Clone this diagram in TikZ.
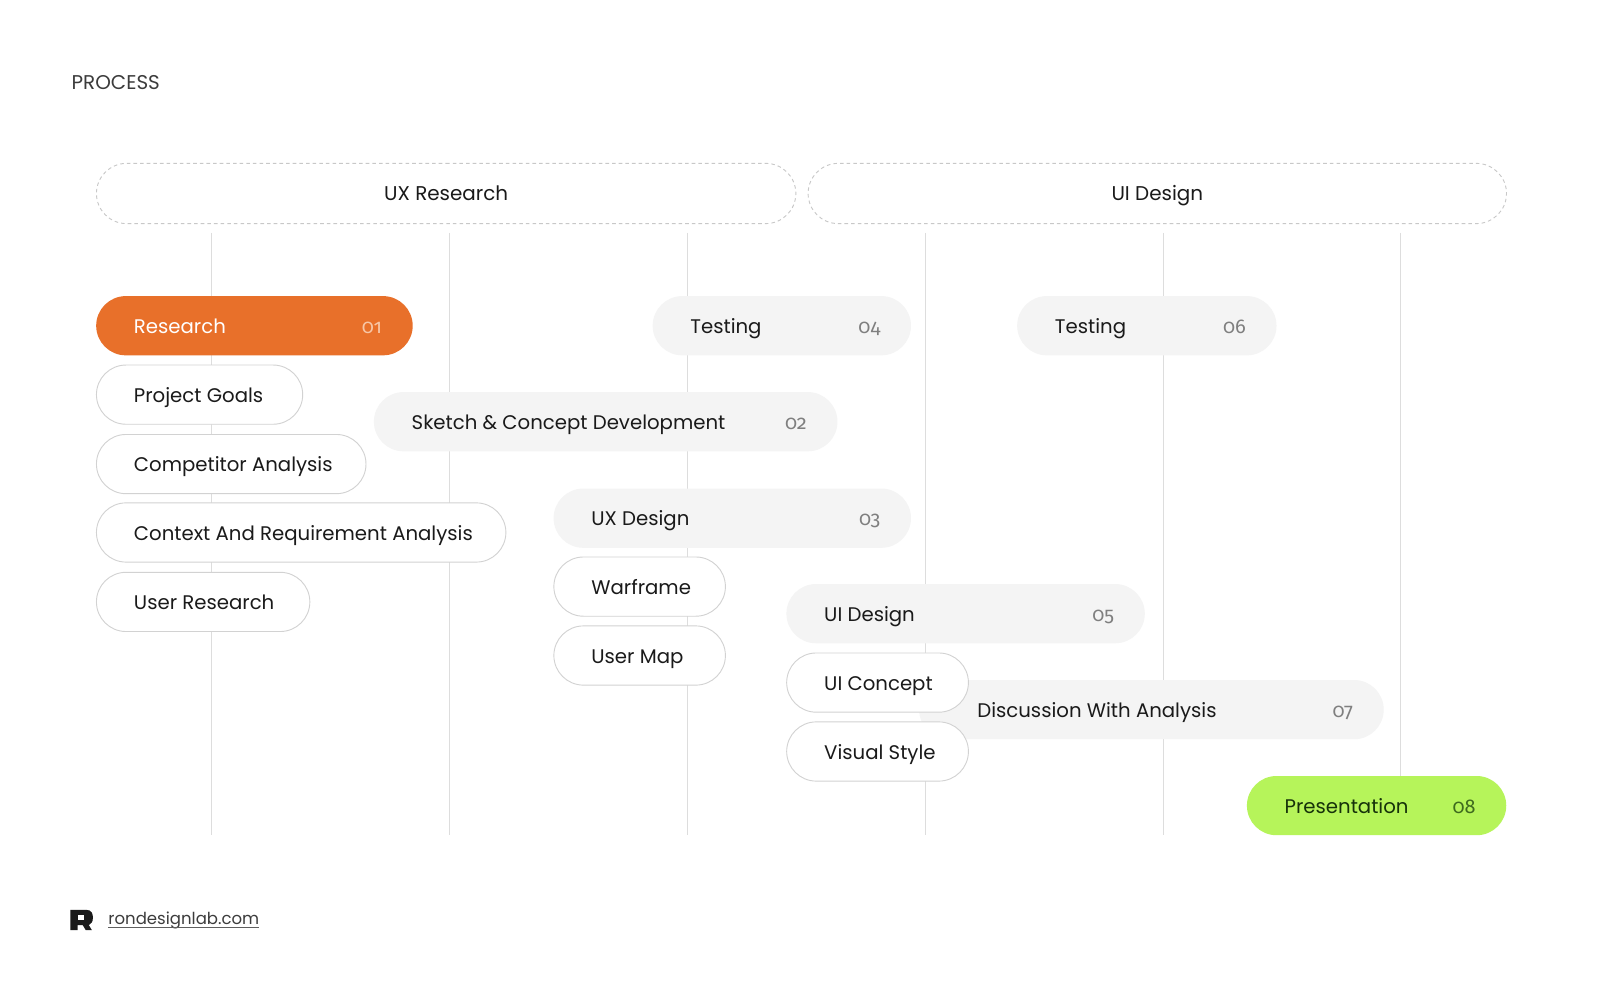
\documentclass[tikz,border=0pt]{standalone}
\usepackage{fontspec}
\setmainfont{Poppins}
\newfontfamily\numfont[Numbers=OldStyle]{Fira Sans}
\usetikzlibrary{shapes.misc}
\definecolor{orng}{HTML}{E8702A}
\definecolor{pgrey}{HTML}{F4F4F4}
\definecolor{pborder}{HTML}{D2D2D2}
\definecolor{vline}{HTML}{DDDDDD}
\definecolor{ink}{HTML}{1A1A1A}
\definecolor{numgrey}{HTML}{7F7F7F}
\definecolor{lime}{HTML}{B6F45A}
\definecolor{limeink}{HTML}{16320A}
\definecolor{limenum}{HTML}{3E6A1E}
\definecolor{orngnum}{HTML}{F7C6A6}
\definecolor{dashc}{HTML}{C8C8C8}
\tikzset{
  pillbase/.style={rounded rectangle, minimum height=58pt, inner sep=0pt, anchor=west},
  greypill/.style={pillbase, fill=pgrey},
  whitepill/.style={pillbase, fill=white, draw=pborder, line width=0.9pt},
  orangepill/.style={pillbase, fill=orng},
  limepill/.style={pillbase, fill=lime},
  lbl/.style={font=\fontsize{19.3}{23}\selectfont, text=ink, inner sep=0pt, anchor=base west},
  numlbl/.style={font=\numfont\fontsize{19.5}{23}\selectfont, text=numgrey, inner sep=0pt, anchor=base east},
  header/.style={rounded rectangle, draw=dashc, dash pattern=on 3.5pt off 3pt, line width=0.9pt, minimum height=59pt, inner sep=0pt, anchor=west, font=\fontsize{19.5}{23}\selectfont, text=ink, text height=13pt, text depth=0pt},
  gridline/.style={draw=vline, line width=0.8pt}
}
% \pillnode{name}{style}{x1}{x2}{yc}{label}{number}{labelcolor}{numcolor}
\newcommand\pillnode[9]{%
  \node[#2, minimum width=#4-#3] (#1) at (#3,#5) {};
  \node[lbl, text=#8] (#1-t) at ([xshift=37pt, yshift=-7.5pt]#1.west) {#6};
  \node[numlbl, text=#9] (#1-n) at ([xshift=-30pt, yshift=-7.5pt]#1.east) {#7};
}
\newcommand\plainpill[6]{%
  \node[#2, minimum width=#4-#3] (#1) at (#3,#5) {};
  \node[lbl] (#1-t) at ([xshift=37pt, yshift=-7.5pt]#1.west) {#6};
}
\begin{document}
\begin{tikzpicture}[x=1pt,y=-1pt]
\useasboundingbox[fill=white] (0,0) rectangle (1568,980);
% title
\node[font=\fontsize{19.5}{23}\selectfont, text=ink!85, inner sep=0pt, anchor=base west] (title) at (70,88) {PROCESS};
% headers
\node[header, minimum width=685pt] (hux) at (94,189.5) {UX Research};
\node[header, minimum width=684pt] (hui) at (791,189.5) {UI Design};
% vertical lines
\foreach \x in {207,440,673,906,1139,1372}{
  \draw[gridline] (\x,228) -- (\x,818);
}
% grey pills
\pillnode{p04}{greypill}{639}{892}{319}{Testing}{04}{ink}{numgrey}
\pillnode{p06}{greypill}{996}{1250}{319}{Testing}{06}{ink}{numgrey}
\pillnode{p02}{greypill}{366}{820}{413}{Sketch \& Concept Development}{02}{ink}{numgrey}
\pillnode{p03}{greypill}{542}{892}{507.5}{UX Design}{03}{ink}{numgrey}
\pillnode{p05}{greypill}{770}{1121}{601}{UI Design}{05}{ink}{numgrey}
\node[greypill, minimum width=455pt] (p07) at (900,695) {};
\node[lbl] (p07-t) at (957,702.5) {Discussion With Analysis};
\node[numlbl] (p07-n) at ([xshift=-30pt, yshift=-7.5pt]p07.east) {07};
% coloured pills
\pillnode{p01}{orangepill}{94}{404}{319}{Research}{01}{white}{orngnum}
\pillnode{p08}{limepill}{1221}{1475}{789}{Presentation}{08}{limeink}{limenum}
% white pills
\plainpill{w1}{whitepill}{94}{296}{386.5}{Project Goals}
\plainpill{w2}{whitepill}{94}{358}{454.5}{Competitor Analysis}
\plainpill{w3}{whitepill}{94}{495}{521.5}{Context And Requirement Analysis}
\plainpill{w4}{whitepill}{94}{303}{589.5}{User Research}
\plainpill{w5}{whitepill}{542}{710}{574.5}{Warframe}
\plainpill{w6}{whitepill}{542}{710}{642}{User Map}
\plainpill{w7}{whitepill}{770}{948}{668.5}{UI Concept}
\plainpill{w8}{whitepill}{770}{948}{736}{Visual Style}
% footer
\fill[ink] (69,891) -- (84,891) .. controls (90,891) and (91,895) .. (91,899) .. controls (91,903) and (89,905) .. (87,906) -- (90,911) -- (84,911) -- (81,906) -- (76,906) -- (76,911) -- (69,911) -- cycle;
\fill[white] (76,896) rectangle (82,901);
\node[font=\fontsize{16.2}{20}\selectfont, text=ink!85, inner sep=0pt, anchor=base west] (site) at (106,905) {rondesignlab.com};
\draw[ink!70, line width=0.8pt] ([yshift=-3pt]site.base west) -- ([yshift=-3pt]site.base east);
\end{tikzpicture}
\end{document}
